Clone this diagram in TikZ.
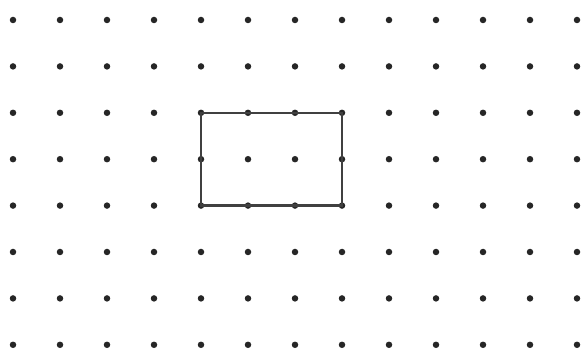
\documentclass[tikz,border=0pt]{standalone}
\begin{document}
\begin{tikzpicture}[x=1pt,y=-1pt,
  griddot/.style={circle,fill=black!85,inner sep=0pt,minimum size=6.5pt},
  rectline/.style={draw=black!75,line width=2.4pt,line join=miter}]
\useasboundingbox (0,0) rectangle (582,350);
\foreach \i in {0,...,12}{
  \foreach \j in {0,...,7}{
    \node[griddot] (d-\i-\j) at ({13+47*\i},{20+46.4*\j}) {};
  }
}
\draw[rectline] (d-4-2.center) -- (d-7-2.center) -- (d-7-4.center) -- (d-4-4.center) -- cycle;
\end{tikzpicture}
\end{document}
